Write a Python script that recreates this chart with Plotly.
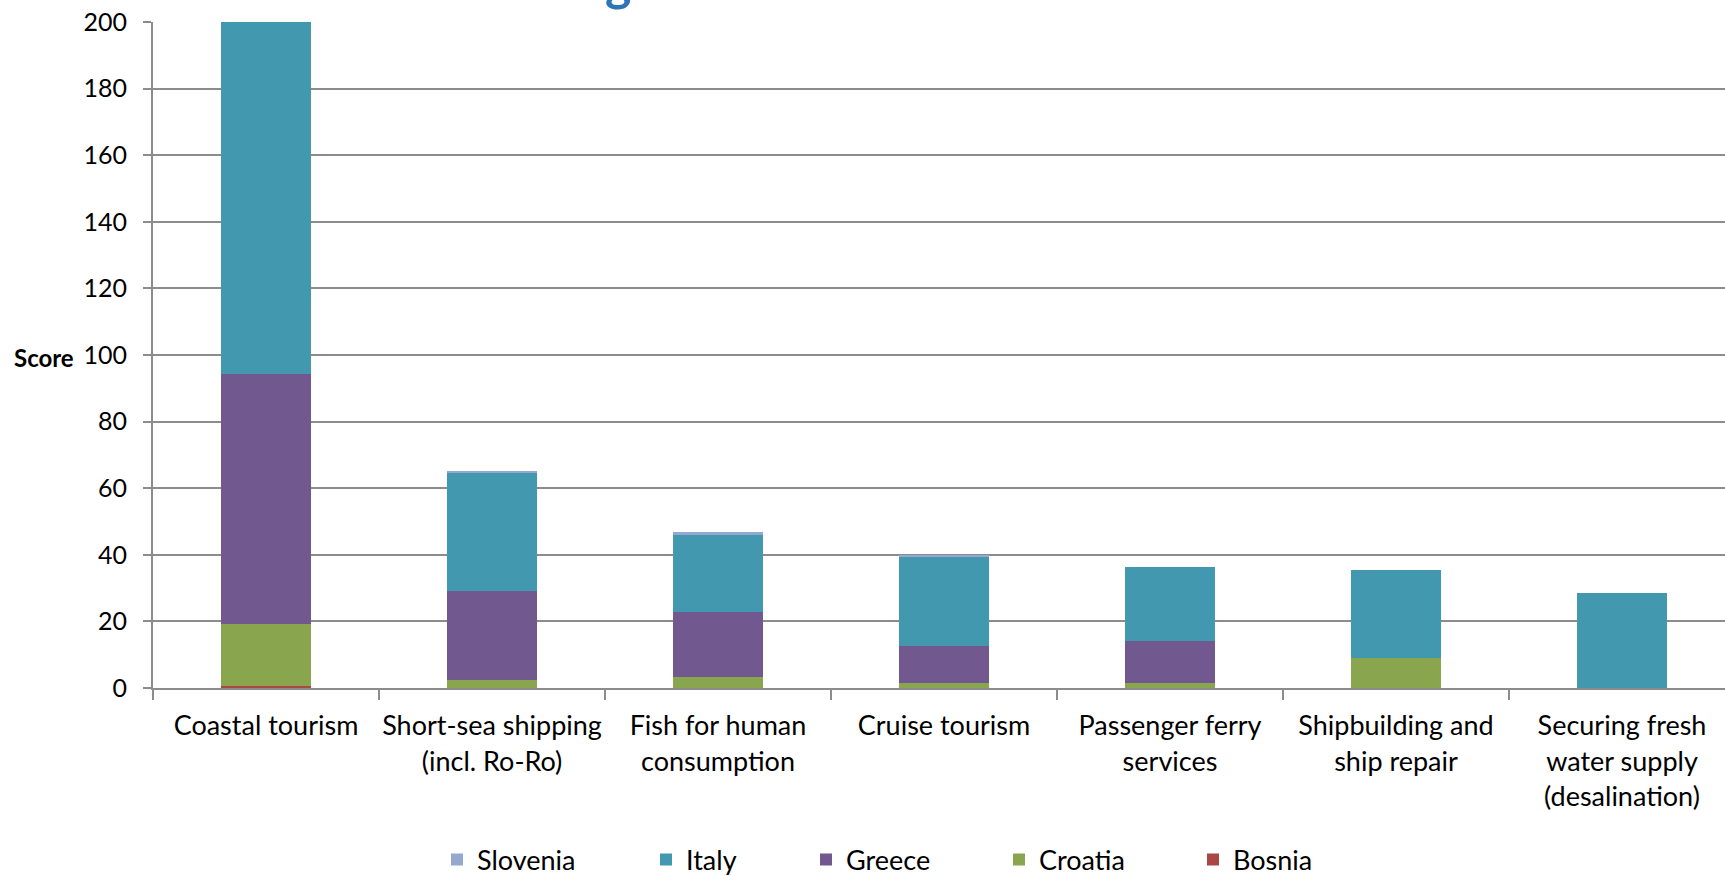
import plotly.graph_objects as go

categories = [
    "Coastal tourism",
    "Short-sea shipping<br>(incl. Ro-Ro)",
    "Fish for human<br>consumption",
    "Cruise tourism",
    "Passenger ferry<br>services",
    "Shipbuilding and<br>ship repair",
    "Securing fresh<br>water supply<br>(desalination)",
]

bosnia = [0.6, 0, 0, 0, 0, 0, 0]
croatia = [18.6, 2.3, 3.3, 1.5, 1.5, 9.1, 0]
greece = [75.2, 26.9, 19.6, 11.1, 12.5, 0, 0]
italy = [106.0, 35.6, 23.3, 26.9, 22.3, 26.3, 28.6]
slovenia = [1.0, 0.5, 0.6, 0.4, 0, 0, 0]

y_ticks = [0, 20, 40, 60, 80, 100, 120, 140, 160, 180, 200]

FONT = "Lato"
FS = 27
W, H = 1725, 876
L, R, T, B = 153, 0, 22, 188

series = [
    ("Bosnia", bosnia, "#AA4643", "legend5", 1207),
    ("Croatia", croatia, "#89A54E", "legend4", 1013),
    ("Greece", greece, "#71588F", "legend3", 820),
    ("Italy", italy, "#4198AF", "legend2", 660),
    ("Slovenia", slovenia, "#93A9CF", "legend", 451),
]

fig = go.Figure()
for name, vals, color, leg, _ in series:
    fig.add_trace(go.Bar(
        x=categories, y=vals, name=name, legend=leg,
        marker=dict(color=color, line=dict(width=0)),
        width=0.4,
    ))

pw = W - L - R
cat_px = 226
xmax = pw / cat_px - 0.5

layout_legends = {}
for name, vals, color, leg, sx in series:
    layout_legends[leg] = dict(
        xref="container", yref="container",
        x=(sx - 14) / W, y=1 - 860 / H,
        xanchor="left", yanchor="middle",
        orientation="h", bgcolor="rgba(0,0,0,0)",
        font=dict(family=FONT, size=FS, color="#000000"),
    )

fig.update_layout(
    width=W, height=H,
    margin=dict(l=L, r=R, t=T, b=B, pad=0, autoexpand=False),
    paper_bgcolor="white", plot_bgcolor="white",
    barmode="stack",
    font=dict(family=FONT, size=FS, color="#000000"),
    showlegend=True,
    **layout_legends,
)

fig.update_xaxes(
    type="category",
    range=[-0.5, xmax],
    tickangle=0, automargin=False,
    tickson="boundaries", ticks="outside", ticklen=10, tickwidth=2, tickcolor="#8c8c8c",
    showgrid=False, showline=True, linecolor="#8c8c8c", linewidth=2,
    tickfont=dict(family=FONT, size=FS, color="#000000"),
    ticklabelstandoff=13,
    zeroline=False,
)
fig.update_yaxes(
    range=[0, 200], automargin=False,
    tickmode="array", tickvals=y_ticks,
    ticks="outside", ticklen=8, tickwidth=2, tickcolor="#8c8c8c",
    showgrid=True, gridcolor="#8c8c8c", gridwidth=2,
    showline=True, linecolor="#8c8c8c", linewidth=2,
    tickfont=dict(family=FONT, size=25, color="#000000"),
    ticklabelstandoff=11,
    zeroline=False,
)

ph = H - T - B
fig.add_annotation(
    text="<b>Score</b>", xref="paper", yref="paper",
    x=(12 - L) / pw, y=(H - B - 357) / ph, xanchor="left", yanchor="middle",
    showarrow=False, font=dict(family=FONT, size=24, color="#000000"),
)
fig.add_annotation(
    text="<b>g</b>", xref="paper", yref="paper",
    x=(618 - L) / pw, y=(H - B + 18) / ph, xanchor="center", yanchor="middle",
    showarrow=False, font=dict(family=FONT, size=50, color="#2E75B6"),
)

fig.write_html("out.html")
